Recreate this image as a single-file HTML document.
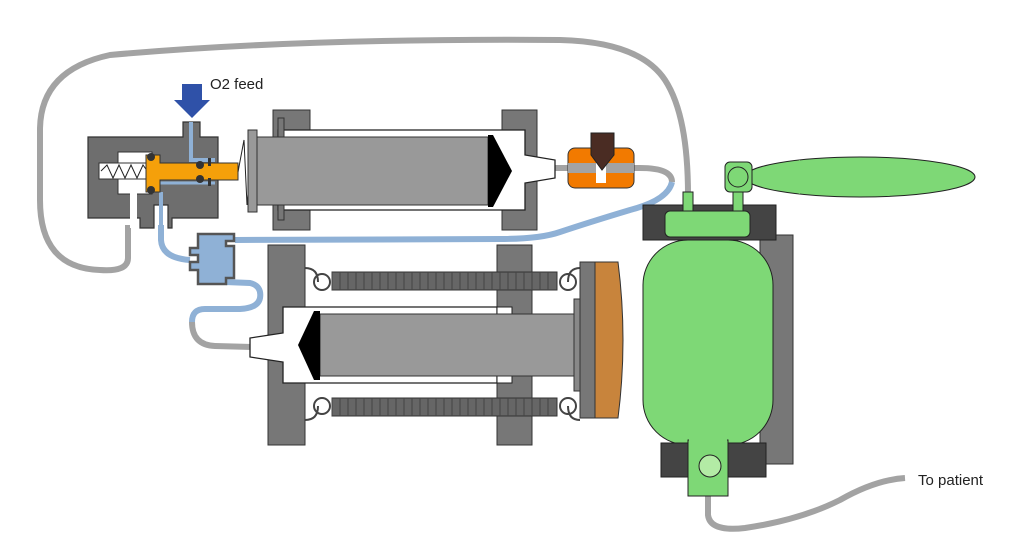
<!DOCTYPE html>
<html><head><style>body{margin:0;background:#fff}svg{display:block}</style></head><body>
<svg width="1024" height="556" viewBox="0 0 1024 556" xmlns="http://www.w3.org/2000/svg" font-family="Liberation Sans, sans-serif">
<path d="M128,225 L128,258 Q128,272 100,270 Q40,268 40,200 L40,130 Q40,70 110,55 Q300,38 560,40 Q640,42 665,80 Q688,115 688,195" fill="none" stroke="#a3a3a3" stroke-width="6"/>
<path d="M708,495 L708,515 Q710,532 745,528 Q800,520 840,500 Q875,480 905,478" fill="none" stroke="#a3a3a3" stroke-width="6"/>
<path d="M555,168 L640,168 Q672,168 672,182" fill="none" stroke="#a3a3a3" stroke-width="6"/>
<path d="M672,182 Q668,200 630,210 Q590,222 560,232 Q540,239 500,239 L235,240" fill="none" stroke="#8fb1d6" stroke-width="6"/>
<path d="M161,225 L161,240 Q162,258 190,260" fill="none" stroke="#8fb1d6" stroke-width="6"/>
<path d="M225,282 L250,283 Q262,286 260,298 Q258,308 240,309 L205,309 Q192,309 192,322" fill="none" stroke="#8fb1d6" stroke-width="6"/>
<path d="M192,322 Q192,345 215,346 L252,347" fill="none" stroke="#a3a3a3" stroke-width="6"/>
<path d="M182,84 H202 V100 H210 L192,118 L174,100 H182 Z" fill="#2f51a8"/>
<text x="210" y="89" font-size="15" fill="#222">O2 feed</text>
<path d="M88,137 H183 V122 H200 V137 H218 V218 H172 V228 H168 V205 H154 V228 H140 V218 H88 Z" fill="#6e6e6e" stroke="#333" stroke-width="1.2"/>
<rect x="118" y="152" width="34" height="42" fill="#fff" stroke="#333"/>
<rect x="99" y="163" width="52" height="16" fill="#fff" stroke="#333"/>
<rect x="130" y="193" width="7" height="35" fill="#fff"/>
<path d="M101,171 L107,165 L113,178 L119,165 L125,178 L131,165 L137,178 L143,165 L148,172" fill="none" stroke="#222" stroke-width="1"/>
<path d="M191,122 V160 H215" fill="none" stroke="#8fb1d6" stroke-width="4"/>
<path d="M161,192 V228" stroke="#8fb1d6" stroke-width="4"/>
<path d="M160,183 H215" stroke="#8fb1d6" stroke-width="3"/>
<path d="M146,155 H160 V163 H238 V180 H160 V192 H146 Z" fill="#f5a00a" stroke="#333"/>
<circle cx="151" cy="157" r="4" fill="#333"/><circle cx="151" cy="190" r="4" fill="#333"/>
<circle cx="200" cy="165" r="4" fill="#333"/><circle cx="200" cy="179" r="4" fill="#333"/>
<rect x="208" y="158" width="3" height="8" fill="#333"/><rect x="208" y="178" width="3" height="8" fill="#333"/>
<path d="M238,172 L244,140 L247,205 L252,150" fill="none" stroke="#222"/>
<rect x="273" y="110" width="37" height="120" fill="#777" stroke="#333"/>
<rect x="502" y="110" width="35" height="120" fill="#777" stroke="#333"/>
<path d="M278,130 H525 V155 L555,160 V178 L525,183 V210 H278 Z" fill="#fff" stroke="#222" stroke-width="1.3"/>
<rect x="278" y="118" width="6" height="102" fill="#777" stroke="#333"/>
<rect x="248" y="130" width="9" height="82" fill="#999" stroke="#333"/>
<rect x="257" y="137" width="231" height="68" fill="#999" stroke="#333"/>
<path d="M488,135 L493,135 L512,171 L493,207 L488,207 Z" fill="#000"/>
<rect x="568" y="148" width="66" height="40" rx="7" fill="#f27a00" stroke="#333"/>
<rect x="568" y="163" width="66" height="10" fill="#a3a3a3"/>
<rect x="596" y="163" width="10" height="20" fill="#fff"/>
<path d="M591,133 H614 V155 L602,170 L591,155 Z" fill="#4a2c23" stroke="#222"/>
<path d="M198,234 H234 V241 H226 V246 H234 V278 H226 V284 H198 V270 H190 V262 H198 V255 H190 V248 H198 Z" fill="#8fb1d6" stroke="#555" stroke-width="2.5"/>
<rect x="268" y="245" width="37" height="200" fill="#777" stroke="#333"/>
<rect x="497" y="245" width="35" height="200" fill="#777" stroke="#333"/>
<g fill="#666" stroke="#333">
<rect x="332" y="272" width="225" height="18"/><rect x="332" y="398" width="225" height="18"/>
</g>
<path d="M332,272 V290 M340,272 V290 M348,272 V290 M356,272 V290 M364,272 V290 M372,272 V290 M380,272 V290 M388,272 V290 M396,272 V290 M404,272 V290 M412,272 V290 M420,272 V290 M428,272 V290 M436,272 V290 M444,272 V290 M452,272 V290 M460,272 V290 M468,272 V290 M476,272 V290 M484,272 V290 M492,272 V290 M500,272 V290 M508,272 V290 M516,272 V290 M524,272 V290 M532,272 V290 M540,272 V290 M548,272 V290" stroke="#444" stroke-width="1"/>
<path d="M332,398 V416 M340,398 V416 M348,398 V416 M356,398 V416 M364,398 V416 M372,398 V416 M380,398 V416 M388,398 V416 M396,398 V416 M404,398 V416 M412,398 V416 M420,398 V416 M428,398 V416 M436,398 V416 M444,398 V416 M452,398 V416 M460,398 V416 M468,398 V416 M476,398 V416 M484,398 V416 M492,398 V416 M500,398 V416 M508,398 V416 M516,398 V416 M524,398 V416 M532,398 V416 M540,398 V416 M548,398 V416" stroke="#444" stroke-width="1"/>
<g fill="none" stroke="#444" stroke-width="2">
<path d="M305,268 Q318,268 318,282"/><circle cx="322" cy="282" r="8"/>
<path d="M305,420 Q318,420 318,406"/><circle cx="322" cy="406" r="8"/>
<path d="M580,268 Q568,268 568,282"/><circle cx="568" cy="282" r="8"/>
<path d="M580,420 Q568,420 568,406"/><circle cx="568" cy="406" r="8"/>
</g>
<path d="M283,307 H497 V383 H283 V362 L250,357 V338 L283,333 Z" fill="#fff" stroke="#222" stroke-width="1.3"/>
<rect x="497" y="307" width="15" height="76" fill="#fff" stroke="#222"/>
<rect x="320" y="314" width="258" height="62" fill="#999" stroke="#333"/>
<path d="M320,311 L314,311 L298,345 L314,380 L320,380 Z" fill="#000"/>
<rect x="574" y="299" width="8" height="92" fill="#888" stroke="#333"/>
<rect x="580" y="262" width="15" height="156" fill="#777" stroke="#333"/>
<path d="M595,262 H618 Q628,340 618,418 H595 Z" fill="#c8843c" stroke="#333"/>
<rect x="760" y="235" width="33" height="229" fill="#777" stroke="#333"/>
<rect x="643" y="205" width="133" height="35" fill="#444" stroke="#222"/>
<rect x="683" y="192" width="10" height="20" fill="#7ed876" stroke="#222"/>
<rect x="733" y="192" width="10" height="20" fill="#7ed876" stroke="#222"/>
<ellipse cx="860" cy="177" rx="115" ry="20" fill="#7ed876" stroke="#222"/>
<path d="M750,177 L800,160 L800,194 Z" fill="#7ed876"/>
<rect x="725" y="162" width="27" height="30" rx="5" fill="#7ed876" stroke="#222"/>
<circle cx="738" cy="177" r="10" fill="#7ed876" stroke="#222"/>
<rect x="665" y="211" width="85" height="26" rx="5" fill="#7ed876" stroke="#222"/>
<rect x="643" y="240" width="130" height="205" rx="45" fill="#7ed876" stroke="#222"/>
<rect x="661" y="443" width="105" height="34" fill="#444" stroke="#222"/>
<rect x="688" y="440" width="40" height="56" fill="#7ed876" stroke="#222"/>
<rect x="689" y="438" width="38" height="8" fill="#7ed876"/>
<circle cx="710" cy="466" r="11" fill="#b3eba5" stroke="#222"/>
<text x="918" y="485" font-size="15" fill="#222">To patient</text>
</svg>
</body></html>
